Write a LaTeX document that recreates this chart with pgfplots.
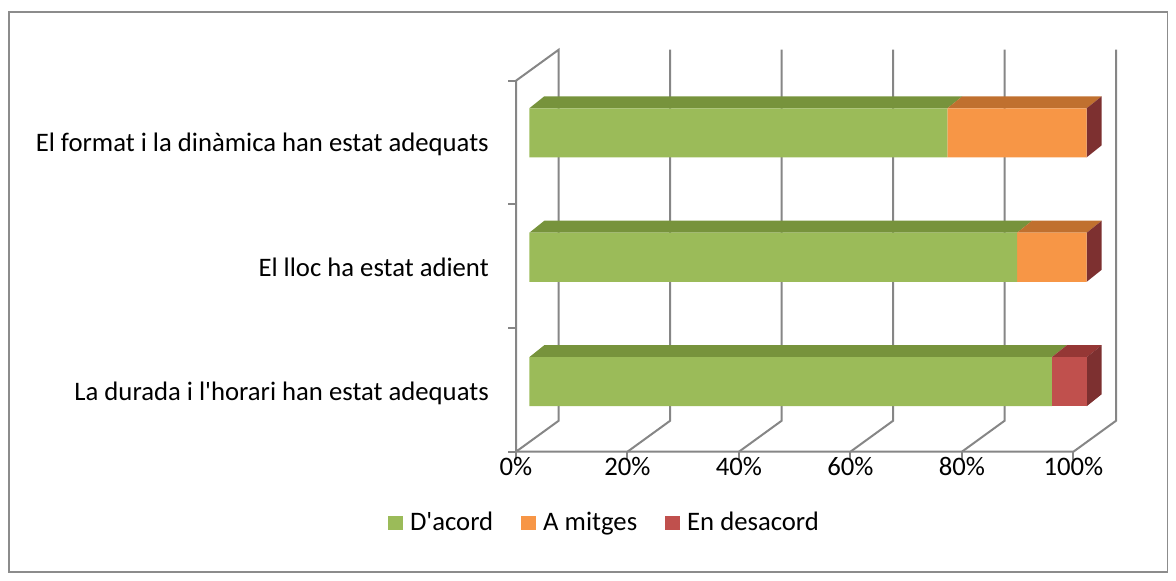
\documentclass[border=0pt]{standalone}
\usepackage{fontspec}
\setmainfont{Carlito}
\usepackage{pgfplots}
\pgfplotsset{compat=1.18}
\definecolor{gfront}{HTML}{9BBB59}
\definecolor{gtop}{HTML}{77933C}
\definecolor{ofront}{HTML}{F79646}
\definecolor{otop}{HTML}{C0702F}
\definecolor{rfront}{HTML}{C0504D}
\definecolor{rtop}{HTML}{953735}
\definecolor{side}{HTML}{7D3030}
\definecolor{gridc}{RGB}{134,134,134}
\definecolor{bordc}{RGB}{140,140,140}
\newcommand{\lblfont}{\fontsize{26.7}{31}\selectfont}
\begin{document}
\begin{tikzpicture}
% ---------- axis 1: walls, floor, top and side faces ----------
\begin{axis}[
  x=5.574pt, y=124.45pt,
  xmin=-2.386, xmax=105.274, ymin=-0.5625, ymax=2.6676,
  hide axis, clip=false,
]
% frame
\draw[bordc, line width=1.7pt] (axis cs:-93.40,-1.5291) rectangle (axis cs:114.496,2.9707);
\coordinate (bbl) at (axis cs:-94.96,-1.5934);
\coordinate (btr) at (axis cs:116.02,3.0671);
% left wall
\addplot[gridc, line width=2pt, line join=miter] coordinates {(-2.386,-0.5625) (-2.386,2.4186) (5.274,2.6676) (5.274,-0.3135) (-2.386,-0.5625)};
% floor front line and right edge
\addplot[gridc, line width=2pt] coordinates {(-2.386,-0.5625) (97.614,-0.5625) (105.274,-0.3135) (105.274,2.6676)};
% back wall gridlines and floor diagonals
\addplot[gridc, line width=2pt] coordinates {(17.614,-0.5625) (25.274,-0.3135) (25.274,2.6676)};
\addplot[gridc, line width=2pt] coordinates {(37.614,-0.5625) (45.274,-0.3135) (45.274,2.6676)};
\addplot[gridc, line width=2pt] coordinates {(57.614,-0.5625) (65.274,-0.3135) (65.274,2.6676)};
\addplot[gridc, line width=2pt] coordinates {(77.614,-0.5625) (85.274,-0.3135) (85.274,2.6676)};
% left ticks
\addplot[gridc, line width=2pt] coordinates {(-3.821,-0.5625) (-2.386,-0.5625)};
\addplot[gridc, line width=2pt] coordinates {(-3.821,0.4312) (-2.386,0.4312)};
\addplot[gridc, line width=2pt] coordinates {(-3.821,1.4249) (-2.386,1.4249)};
\addplot[gridc, line width=2pt] coordinates {(-3.821,2.4186) (-2.386,2.4186)};
% bottom ticks
\addplot[gridc, line width=2pt] coordinates {(-2.386,-0.5625) (-2.386,-0.629)};
\addplot[gridc, line width=2pt] coordinates {(17.614,-0.5625) (17.614,-0.629)};
\addplot[gridc, line width=2pt] coordinates {(37.614,-0.5625) (37.614,-0.629)};
\addplot[gridc, line width=2pt] coordinates {(57.614,-0.5625) (57.614,-0.629)};
\addplot[gridc, line width=2pt] coordinates {(77.614,-0.5625) (77.614,-0.629)};
\addplot[gridc, line width=2pt] coordinates {(97.614,-0.5625) (97.614,-0.629)};
% top faces: top bar (75 / 25 / 0)
\addplot[fill=gtop, draw=none] coordinates {(0,2.197) (75,2.197) (77.691,2.2934) (2.691,2.2934)} --cycle;
\addplot[fill=otop, draw=none] coordinates {(75,2.197) (100,2.197) (102.691,2.2934) (77.691,2.2934)} --cycle;
\addplot[fill=side, draw=none] coordinates {(100,1.803) (100,2.197) (102.691,2.2934) (102.691,1.8994)} --cycle;
% middle bar (87.5 / 12.5 / 0)
\addplot[fill=gtop, draw=none] coordinates {(0,1.197) (87.5,1.197) (90.191,1.2934) (2.691,1.2934)} --cycle;
\addplot[fill=otop, draw=none] coordinates {(87.5,1.197) (100,1.197) (102.691,1.2934) (90.191,1.2934)} --cycle;
\addplot[fill=side, draw=none] coordinates {(100,0.803) (100,1.197) (102.691,1.2934) (102.691,0.8994)} --cycle;
% bottom bar (93.75 / 0 / 6.25)
\addplot[fill=gtop, draw=none] coordinates {(0,0.197) (93.75,0.197) (96.441,0.2934) (2.691,0.2934)} --cycle;
\addplot[fill=rtop, draw=none] coordinates {(93.75,0.197) (100,0.197) (102.691,0.2934) (96.441,0.2934)} --cycle;
\addplot[fill=side, draw=none] coordinates {(100,-0.197) (100,0.197) (102.691,0.2934) (102.691,-0.1006)} --cycle;
\end{axis}
% ---------- axis 2: front faces, labels, legend ----------
\begin{axis}[
  x=5.574pt, y=124.45pt,
  xmin=-2.386, xmax=105.274, ymin=-0.5625, ymax=2.6676,
  clip=false,
  axis line style={draw=none}, major tick length=0pt,
  xbar stacked, bar width=0.394,
  xtick={0,20,40,60,80,100},
  xticklabels={0\%,20\%,40\%,60\%,80\%,100\%},
  ytick={0,1,2},
  yticklabels={La durada i l\textquotesingle horari han estat adequats, El lloc ha estat adient\ , El format i la dinàmica han estat adequats},
  tick label style={font=\lblfont, text=black},
  xticklabel style={anchor=base, inner sep=0pt, xshift=-13.3pt, yshift=-23.8pt},
  yticklabel style={anchor=base east, inner sep=0pt, xshift=-27pt, yshift=-18.9pt},
  legend columns=-1,
  legend image code/.code={\fill[#1] (0pt,-6pt) rectangle (15pt,8pt);},
  legend style={at={(axis cs:13.31,-1.1434)}, anchor=center, draw=none, fill=none, inner sep=0pt,
    font=\lblfont,
    nodes={inner sep=0pt, text height=18pt, text depth=6pt},
    /tikz/every odd column/.append style={column sep=7pt},
    /tikz/every even column/.append style={column sep=28pt}},
]
\addplot[fill=gfront, draw=none] coordinates {(93.75,0) (87.5,1) (75,2)};
\addplot[fill=ofront, draw=none] coordinates {(0,0) (12.5,1) (25,2)};
\addplot[fill=rfront, draw=none] coordinates {(6.25,0) (0,1) (0,2)};
\legend{D\textquotesingle acord, A mitges, En desacord}
\end{axis}
\pgfresetboundingbox
\useasboundingbox (bbl) rectangle (btr);
\end{tikzpicture}
\end{document}
